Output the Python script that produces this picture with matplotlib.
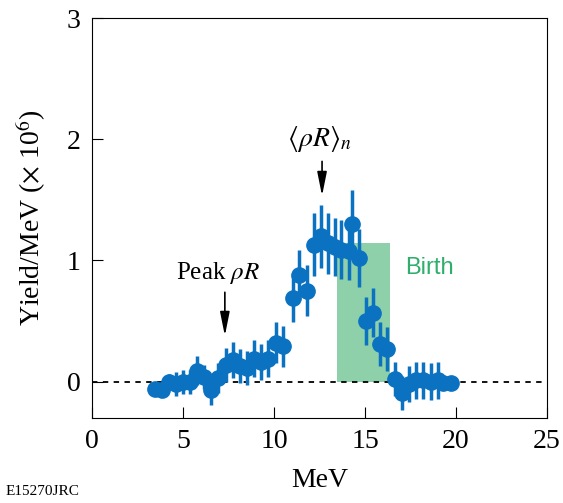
import matplotlib.pyplot as plt
import numpy as np

# spectrum
energy = [3.46, 3.85, 4.23, 4.6, 5.0, 5.4, 5.77, 6.15, 6.54, 6.9, 7.36, 7.75, 8.13,
          8.5, 8.9, 9.29, 9.67, 10.1, 10.5, 11.04, 11.4, 11.8, 12.2, 12.58, 12.97,
          13.35, 13.7, 14.1, 14.3, 14.67, 15.05, 15.44, 15.82, 16.2, 16.65, 17.03,
          17.4, 17.8, 18.2, 18.6, 19.0, 19.3, 19.7]
yield_ = [-0.06, -0.07, 0.0, -0.02, 0.0, 0.0, 0.09, 0.04, -0.07, 0.03, 0.14, 0.18, 0.13,
          0.11, 0.19, 0.16, 0.19, 0.32, 0.29, 0.69, 0.88, 0.75, 1.13, 1.20, 1.14,
          1.11, 1.09, 1.08, 1.30, 1.02, 0.50, 0.57, 0.31, 0.27, 0.02, -0.09,
          -0.02, 0.01, 0.01, 0.0, 0.01, -0.01, -0.01]
error = [0.05, 0.05, 0.06, 0.1, 0.1, 0.1, 0.12, 0.1, 0.12, 0.12, 0.14, 0.15, 0.14,
         0.14, 0.15, 0.15, 0.15, 0.17, 0.17, 0.2, 0.21, 0.21, 0.26, 0.26, 0.25,
         0.24, 0.24, 0.24, 0.28, 0.24, 0.2, 0.2, 0.18, 0.18, 0.14, 0.14,
         0.15, 0.15, 0.15, 0.15, 0.15, 0.05, 0.03]

birth_range = (13.45, 16.35)
birth_height = 1.14

plt.rcParams['font.family'] = ['Liberation Serif', 'DejaVu Serif']
plt.rcParams['mathtext.fontset'] = 'stix'

fig = plt.figure(figsize=(5.63, 5.03), dpi=100)
ax = fig.add_axes([0.1634, 0.169, 0.8082, 0.7952])

blue = '#0a72c0'
ax.fill_between(birth_range, 0, birth_height, color='#8dd0aa', lw=0, zorder=1)
ax.axhline(0, color='k', ls=(0, (3, 3)), lw=1.3, zorder=2)
ax.errorbar(energy, yield_, yerr=error, fmt='o', color=blue, ms=11, elinewidth=2.5,
            capsize=0, zorder=3)

ax.text(17.2, 0.94, 'Birth', color='#2fae6c', fontsize=17, ha='left', va='center',
        family=['Liberation Sans', 'DejaVu Sans'])
arrow = dict(arrowstyle='-|>,head_width=0.18,head_length=0.9',
             color='k', lw=1.2, mutation_scale=16)
ax.annotate('', xy=(7.3, 0.355), xytext=(7.3, 0.76), arrowprops=arrow)
ax.text(6.9, 0.9, r'Peak $\rho R$', fontsize=18, ha='center', va='center')
ax.annotate('', xy=(12.64, 1.51), xytext=(12.64, 1.84), arrowprops=arrow)
ax.text(12.5, 2.0, r'$\langle\rho R\rangle_n$', fontsize=20, ha='center', va='center')

ax.set_xlim(0, 25)
ax.set_ylim(-0.3, 3)
ax.set_xticks([0, 5, 10, 15, 20, 25])
ax.set_yticks([0, 1, 2, 3])
ax.tick_params(direction='in', length=8, labelsize=20, pad=8)
ax.set_xlabel('MeV', fontsize=20, labelpad=10)
ax.set_ylabel(r'Yield/MeV ($\times$ 10$^6$)', fontsize=20, labelpad=14)

fig.text(0.01, 0.01, 'E15270JRC', fontsize=11, ha='left', va='bottom')

fig.savefig('out.png', dpi=100)
